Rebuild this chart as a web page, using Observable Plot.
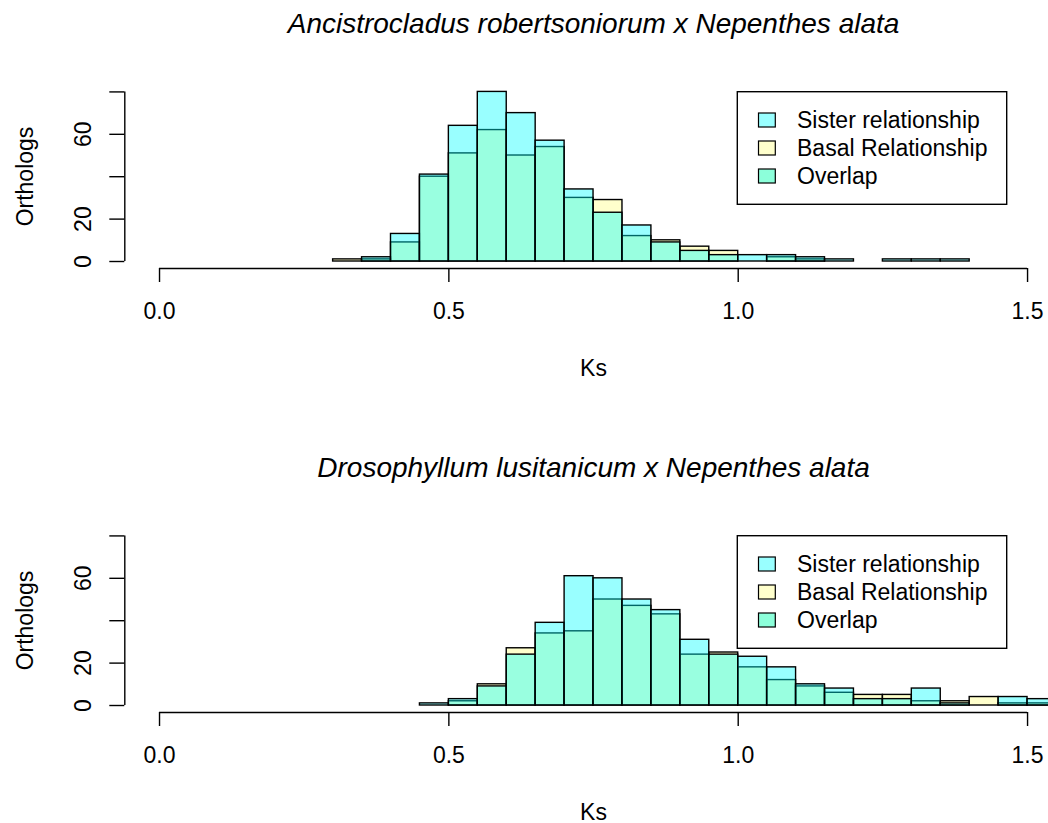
<!DOCTYPE html>
<html><head><meta charset="utf-8">
<script src="https://cdn.jsdelivr.net/npm/d3@7"></script>
<script src="https://cdn.jsdelivr.net/npm/@observablehq/plot@0.6"></script>
<style>
body{margin:0;background:#fff;}
#chart svg{display:block;}
</style>
</head><body><div id="chart"></div>
<script>
// ---- data ----
const title1 = "Ancistrocladus robertsoniorum x Nepenthes alata";
const breaks1 = [0.30,0.35,0.40,0.45,0.50,0.55,0.60,0.65,0.70,0.75,0.80,0.85,0.90,0.95,1.00,1.05,1.10,1.15,1.20,1.25,1.30,1.35,1.40];
const sister1 = [0,2,13,41,64,80,70,57,34,23,17,9,5,3,3,3,2,1,0,1,1,1];
const basal1  = [1,1,9,40,51,62,50,54,30,29,12,10,7,5,0,2,1,0,0,0,0,0];

const title2 = "Drosophyllum lusitanicum x Nepenthes alata";
const breaks2 = [0.45,0.50,0.55,0.60,0.65,0.70,0.75,0.80,0.85,0.90,0.95,1.00,1.05,1.10,1.15,1.20,1.25,1.30,1.35,1.40,1.45,1.50,1.55];
const sister2 = [1,3,9,24,39,61,60,50,45,31,24,23,18,10,8,3,3,8,1,0,4,3];
const basal2  = [0,2,10,27,34,35,50,47,43,24,25,18,12,9,6,5,5,2,2,4,1,1];

const xTicks = [0, 0.5, 1.0, 1.5];
const yTicks = [0, 20, 40, 60, 80];
const yTickLabels = ["0", "20", "", "60", ""];
const xLabel = "Ks";
const yLabel = "Orthologs";
const legendLabels = ["Sister relationship", "Basal Relationship", "Overlap"];
const legendColors = ["#99FFFF", "#FFFFCC", "#8CFFDA"];

// ---- drawing ----
const FONT = "'Liberation Sans', Arial, Helvetica, sans-serif";
const LW = 1.4;
const yLow = -3.3;

function panel(title, breaks, sister, basal, height) {
  const rows = counts => counts.map((n, i) => ({x0: breaks[i], x1: breaks[i + 1], n}));
  const xMid = (xTicks[0] + xTicks[xTicks.length - 1]) / 2;
  const svg = Plot.plot({
    width: 1048, height,
    marginLeft: 124.3, marginRight: 0, marginTop: 84, marginBottom: height - 268,
    x: {domain: [-0.06, 1.5362]},
    y: {domain: [yLow, 83.5]},
    style: {fontFamily: FONT, fontSize: "23px", background: "white", overflow: "visible"},
    marks: [
      Plot.rect(rows(basal), {x1: "x0", x2: "x1", y1: 0, y2: "n", fill: "yellow", fillOpacity: 0.2, stroke: "black", strokeWidth: LW, clip: true}),
      Plot.rect(rows(sister), {x1: "x0", x2: "x1", y1: 0, y2: "n", fill: "cyan", fillOpacity: 0.4, stroke: "black", strokeWidth: LW, clip: true}),
      // x axis
      Plot.ruleY([yLow], {x1: xTicks[0], x2: xTicks[xTicks.length - 1], stroke: "black", strokeWidth: LW}),
      Plot.axisX({ticks: xTicks, tickSize: 14, tickFormat: () => "", label: null, stroke: "black", strokeWidth: LW}),
      Plot.text(xTicks, {x: d => d, frameAnchor: "bottom", dy: 50, lineAnchor: "bottom", text: d3.format(".1f"), fontSize: 23, fill: "black"}),
      Plot.text([xLabel], {x: () => xMid, frameAnchor: "bottom", dy: 107, lineAnchor: "bottom", text: d => d, fontSize: 23, fill: "black"}),
      // y axis
      Plot.ruleX([-0.06], {y1: yTicks[0], y2: yTicks[yTicks.length - 1], stroke: "black", strokeWidth: LW}),
      Plot.axisY({ticks: yTicks, tickSize: 15, tickFormat: () => "", label: null, stroke: "black", strokeWidth: LW}),
      Plot.text(yTicks.map((v, i) => ({v, t: yTickLabels[i]})), {y: "v", text: "t", frameAnchor: "left", dx: -34, rotate: -90, lineAnchor: "bottom", textAnchor: "middle", fontSize: 23, fill: "black"}),
      Plot.text([yLabel], {frameAnchor: "left", dx: -92, rotate: -90, lineAnchor: "bottom", textAnchor: "middle", text: d => d, fontSize: 23, fill: "black"}),
      // title
      Plot.text([title], {x: () => xMid, frameAnchor: "top", dy: -52, lineAnchor: "bottom", text: d => d, fontSize: 28, fontStyle: "italic", fill: "black"})
    ]
  });
  // legend box
  const g = d3.select(svg).append("g").attr("font-family", FONT).attr("font-size", 23).attr("text-anchor", "start");
  g.append("rect").attr("x", 737.3).attr("y", 91.7).attr("width", 269.4).attr("height", 112.6)
    .attr("fill", "white").attr("stroke", "black").attr("stroke-width", LW);
  legendLabels.forEach((lab, i) => {
    const cy = 120 + i * 28;
    g.append("rect").attr("x", 758.5).attr("y", cy - 7).attr("width", 16.8).attr("height", 14)
      .attr("fill", legendColors[i]).attr("stroke", "black").attr("stroke-width", 1.2);
    g.append("text").attr("x", 797).attr("y", cy + 8.2).attr("fill", "black").attr("text-anchor", "start").text(lab);
  });
  return svg;
}

const root = document.getElementById("chart");
root.appendChild(panel(title1, breaks1, sister1, basal1, 444));
root.appendChild(panel(title2, breaks2, sister2, basal2, 379));
</script>
</body></html>
